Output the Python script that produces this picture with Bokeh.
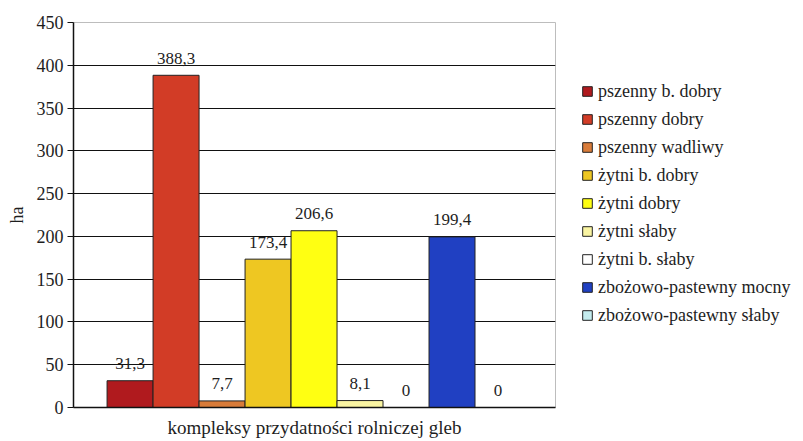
from bokeh.plotting import figure
from bokeh.layouts import row
from bokeh.models import (ColumnDataSource, Range1d, FixedTicker, Legend, LegendItem)
from bokeh.core.properties import value
from bokeh.embed import file_html
from bokeh.resources import INLINE

series = ["pszenny b. dobry", "pszenny dobry", "pszenny wadliwy", "żytni b. dobry",
          "żytni dobry", "żytni słaby", "żytni b. słaby",
          "zbożowo-pastewny mocny", "zbożowo-pastewny słaby"]
values = [31.3, 388.3, 7.7, 173.4, 206.6, 8.1, 0, 199.4, 0]
colors = ["#b01a1e", "#d23c26", "#d97c3a", "#eec722", "#ffff12", "#f9f4a2",
          "#ffffff", "#2040c2", "#c4ecee"]
y_ticks = [0, 50, 100, 150, 200, 250, 300, 350, 400, 450]
x_title = "kompleksy przydatności rolniczej gleb"
y_title = "ha"

FONT = "Liberation Serif"
TXT = "#1e1e1e"
H = 440

xs = [i + 1 for i in range(len(values))]
labels = [("%g" % v).replace(".", ",") for v in values]

src = ColumnDataSource(dict(x=xs, top=values, color=colors, name=series, label=labels))

# ---- main chart ----
p = figure(width=568, height=H, output_backend="svg", toolbar_location=None,
           x_range=Range1d(-0.23, 10.25), y_range=Range1d(0, 450),
           min_border_left=73, min_border_top=22, min_border_bottom=H - 409,
           min_border_right=13)
p.background_fill_color = "white"
p.border_fill_color = "white"
p.outline_line_color = "#bdbdbd"
p.outline_line_width = 1

r = p.vbar(x="x", top="top", width=1.0, bottom=0, fill_color="color",
           line_color="#222222", line_width=1, source=src)

p.text(x="x", y="top", text="label", source=src, text_align="center",
       text_baseline="middle", y_offset=-17, text_font=value(FONT),
       text_font_size="17px", text_color=TXT)

p.yaxis.ticker = FixedTicker(ticks=y_ticks)
p.yaxis.major_tick_out = 6
p.yaxis.major_tick_in = 0
p.yaxis.minor_tick_line_color = None
p.yaxis.axis_line_color = "#111111"
p.yaxis.axis_line_width = 1.5
p.yaxis.major_tick_line_color = "#111111"
p.yaxis.major_label_text_font = FONT
p.yaxis.major_label_text_font_size = "18px"
p.yaxis.major_label_text_color = TXT
p.yaxis.major_label_standoff = 4
p.yaxis.axis_label = y_title
p.yaxis.axis_label_text_font = FONT
p.yaxis.axis_label_text_font_style = "normal"
p.yaxis.axis_label_text_font_size = "18px"
p.yaxis.axis_label_text_color = TXT
p.yaxis.axis_label_standoff = 7

p.xaxis.ticker = FixedTicker(ticks=[])
p.xaxis.major_tick_out = 0
p.xaxis.major_tick_in = 0
p.xaxis.minor_tick_line_color = None
p.xaxis.axis_line_color = "#111111"
p.xaxis.axis_line_width = 1.5
p.xaxis.axis_label = x_title
p.xaxis.axis_label_text_font = FONT
p.xaxis.axis_label_text_font_style = "normal"
p.xaxis.axis_label_text_font_size = "19px"
p.xaxis.axis_label_text_color = TXT
p.xaxis.axis_label_standoff = 9

p.xgrid.grid_line_color = None
p.ygrid.ticker = FixedTicker(ticks=y_ticks[:-1])
p.ygrid.grid_line_color = "#111111"
p.ygrid.grid_line_width = 1

# ---- legend panel (second figure sharing the data; its bars are hidden) ----
p2 = figure(width=234, height=H, output_backend="svg", toolbar_location=None,
            x_range=Range1d(-0.23, 10.25), y_range=Range1d(0, 450),
            x_axis_type=None, y_axis_type=None,
            min_border_left=0, min_border_right=0, min_border_top=0, min_border_bottom=0)
p2.outline_line_color = None
p2.background_fill_color = "white"
p2.border_fill_color = "white"
p2.xgrid.grid_line_color = None
p2.ygrid.grid_line_color = None
r2 = p2.vbar(x="x", top="top", width=1.0, bottom=0, fill_color="color",
             line_color="#222222", line_width=1, source=src)
r2.visible = False

items = [LegendItem(label=series[i], renderers=[r2], index=i) for i in range(len(series))]
legend = Legend(items=items, location=(13, 78), orientation="vertical",
                label_text_font=FONT, label_text_font_size="18px",
                label_text_color=TXT, glyph_width=12, glyph_height=12,
                label_height=28, label_standoff=5, spacing=0, padding=0, margin=0,
                border_line_color=None, background_fill_alpha=0,
                inactive_fill_alpha=0)
p2.add_layout(legend)

open("out.html", "w").write(file_html(row(p, p2), INLINE))
